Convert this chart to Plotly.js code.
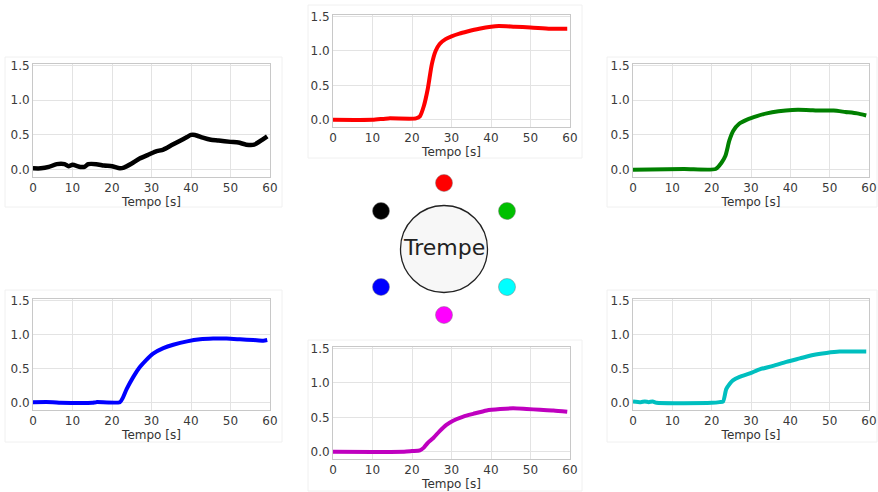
<!DOCTYPE html>
<html>
<head>
<meta charset="utf-8">
<script src="https://cdn.plot.ly/plotly-3.0.1.min.js"></script>
<style>html,body{margin:0;padding:0;background:#fff;}#chart{width:878px;height:492px;}</style>
</head>
<body>
<div id="chart"></div>
<script>
// ---- data ----
const tBlack = [0,2,4,6,8,9,10,12,13,14,16,18,20,22,23,25,27,29,31,33,35,37,39,40,41,43,45,47,50,52,54,56,58,59.3];
const vBlack = [0.02,0.02,0.04,0.08,0.08,0.05,0.07,0.04,0.04,0.08,0.08,0.06,0.05,0.02,0.03,0.09,0.16,0.21,0.26,0.29,0.35,0.41,0.47,0.5,0.5,0.46,0.43,0.42,0.4,0.39,0.36,0.36,0.43,0.48];

const tRed = [0,10,14,21,22,23,24,25,26,27,28.5,30,32,34,37,40,42,46,50,55,59.3];
const vRed = [0,0,0.02,0.02,0.05,0.2,0.45,0.8,1.0,1.1,1.17,1.21,1.25,1.28,1.32,1.35,1.36,1.35,1.34,1.32,1.32];

const tGreen = [0,13,21,22.5,23.5,24.5,25.5,27,29,31.5,34,37,40.5,44,47.5,51,54,57,59.3];
const vGreen = [0,0.01,0.01,0.1,0.2,0.42,0.56,0.66,0.72,0.77,0.81,0.84,0.86,0.86,0.85,0.85,0.83,0.81,0.78];

const tBlue = [0,5,7,15,16,22,22.8,23.7,25.4,27,28.7,30.4,33,35.5,39,42.3,45.6,49,52.4,55.8,58.3,59.3];
const vBlue = [0.01,0.01,0,0,0.01,0.01,0.08,0.2,0.38,0.52,0.63,0.72,0.8,0.85,0.9,0.93,0.94,0.94,0.93,0.92,0.91,0.92];

const tMagenta = [0,18,20,22,23,24,25.4,27,28.7,30.4,33,35.5,38.9,42.3,45.6,49,52.4,55.8,59.3];
const vMagenta = [0,0,0.01,0.02,0.06,0.13,0.2,0.3,0.39,0.45,0.51,0.55,0.6,0.62,0.63,0.62,0.61,0.6,0.58];

const tCyan = [0,2,3,4,5,6,20,22,22.9,23.7,24.6,25.4,27.1,29.7,32.2,35.6,39,42.4,45.8,49.2,52.5,59.3];
const vCyan = [0.02,0.01,0.02,0.01,0.02,0,0,0.01,0.02,0.2,0.28,0.33,0.38,0.43,0.49,0.54,0.6,0.65,0.7,0.73,0.75,0.75];

const xTicks = [0,10,20,30,40,50,60];
const yTicks = [0,0.5,1.0,1.5];
const yTickText = ["0.0","0.5","1.0","1.5"];
const xTitle = "Tempo [s]";
const centerLabel = "Trempe";

// ---- layout helpers ----
const W = 878, H = 492;
const fx = p => p / W;
const fy = p => 1 - p / H;

const panels = [
  {t: tBlack,   v: vBlack,   color: "#000000", width: 4.5, box: [33, 270, 64, 177],  card: [5, 282, 57, 207]},
  {t: tRed,     v: vRed,     color: "#ff0000", width: 4,   box: [333, 570, 15, 127], card: [308, 582, 5, 158]},
  {t: tGreen,   v: vGreen,   color: "#008000", width: 4,   box: [633, 869, 64, 177], card: [607, 877, 57, 207]},
  {t: tBlue,    v: vBlue,    color: "#0000ff", width: 4,   box: [33, 270, 299, 410], card: [5, 282, 290, 442]},
  {t: tMagenta, v: vMagenta, color: "#bf00bf", width: 4,   box: [333, 570, 347, 459], card: [308, 582, 340, 491]},
  {t: tCyan,    v: vCyan,    color: "#00bfbf", width: 4,   box: [633, 869, 299, 410], card: [607, 877, 290, 442]}
];

const font = {family: "DejaVu Sans, sans-serif", size: 12, color: "#333"};
const traces = [];
const layout = {
  width: W, height: H,
  margin: {l: 0, r: 0, t: 0, b: 0},
  paper_bgcolor: "#fff", plot_bgcolor: "#fff",
  showlegend: false,
  font: font,
  shapes: [], annotations: []
};

panels.forEach((p, i) => {
  const n = i === 0 ? "" : String(i + 1);
  traces.push({
    x: p.t, y: p.v, type: "scatter", mode: "lines",
    line: {color: p.color, width: p.width, shape: "spline", smoothing: 0.6},
    xaxis: "x" + n, yaxis: "y" + n, hoverinfo: "skip"
  });
  const [x0, x1, y0, y1] = p.box;
  layout["xaxis" + n] = {
    domain: [fx(x0), fx(x1)], anchor: "y" + n,
    range: [0, 60], tickvals: xTicks, ticktext: xTicks.map(String),
    showgrid: true, gridcolor: "#e3e3e3", gridwidth: 1,
    showline: true, linecolor: "#c8c8c8", linewidth: 1, mirror: true,
    zeroline: false, ticks: "", tickfont: {size: 12, color: "#3a3a3a"},
    title: {text: xTitle, font: {size: 12, color: "#333"}, standoff: 0},
    automargin: false, fixedrange: true
  };
  layout["yaxis" + n] = {
    domain: [fy(y1), fy(y0)], anchor: "x" + n,
    range: [-0.105, 1.52], tickvals: yTicks, ticktext: yTickText,
    showgrid: true, gridcolor: "#e3e3e3", gridwidth: 1,
    showline: true, linecolor: "#c8c8c8", linewidth: 1, mirror: true,
    zeroline: false, ticks: "", tickfont: {size: 12, color: "#3a3a3a"},
    automargin: false, fixedrange: true
  };
  const [cx0, cx1, cy0, cy1] = p.card;
  layout.shapes.push({
    type: "rect", xref: "paper", yref: "paper", layer: "below",
    x0: fx(cx0), x1: fx(cx1), y0: fy(cy1), y1: fy(cy0),
    line: {color: "#f0f0f0", width: 1}, fillcolor: "rgba(0,0,0,0)"
  });
});

// ---- centre diagram ----
const circ = (cx, cy, r, fill, lineColor, lw) => ({
  type: "circle", xref: "paper", yref: "paper",
  x0: fx(cx - r), x1: fx(cx + r), y0: fy(cy + r), y1: fy(cy - r),
  fillcolor: fill, line: {color: lineColor, width: lw}
});
layout.shapes.push(circ(444, 249, 43.5, "#f7f7f7", "#222", 1.3));
const dots = [
  [444, 183, "#ff0000"], [507, 211, "#00c000"], [507, 287, "#00ffff"],
  [444, 315, "#ff00ff"], [381, 287, "#0000ff"], [381, 211, "#000000"]
];
dots.forEach(d => layout.shapes.push(circ(d[0], d[1], 8.5, d[2], "rgba(120,120,120,0.6)", 0.8)));
layout.annotations.push({
  text: centerLabel, xref: "paper", yref: "paper", x: fx(444), y: fy(248),
  xanchor: "center", yanchor: "middle", showarrow: false,
  font: {family: "DejaVu Sans, sans-serif", size: 22, color: "#222"}
});

Plotly.newPlot("chart", traces, layout, {staticPlot: true, displayModeBar: false});
</script>
</body>
</html>
